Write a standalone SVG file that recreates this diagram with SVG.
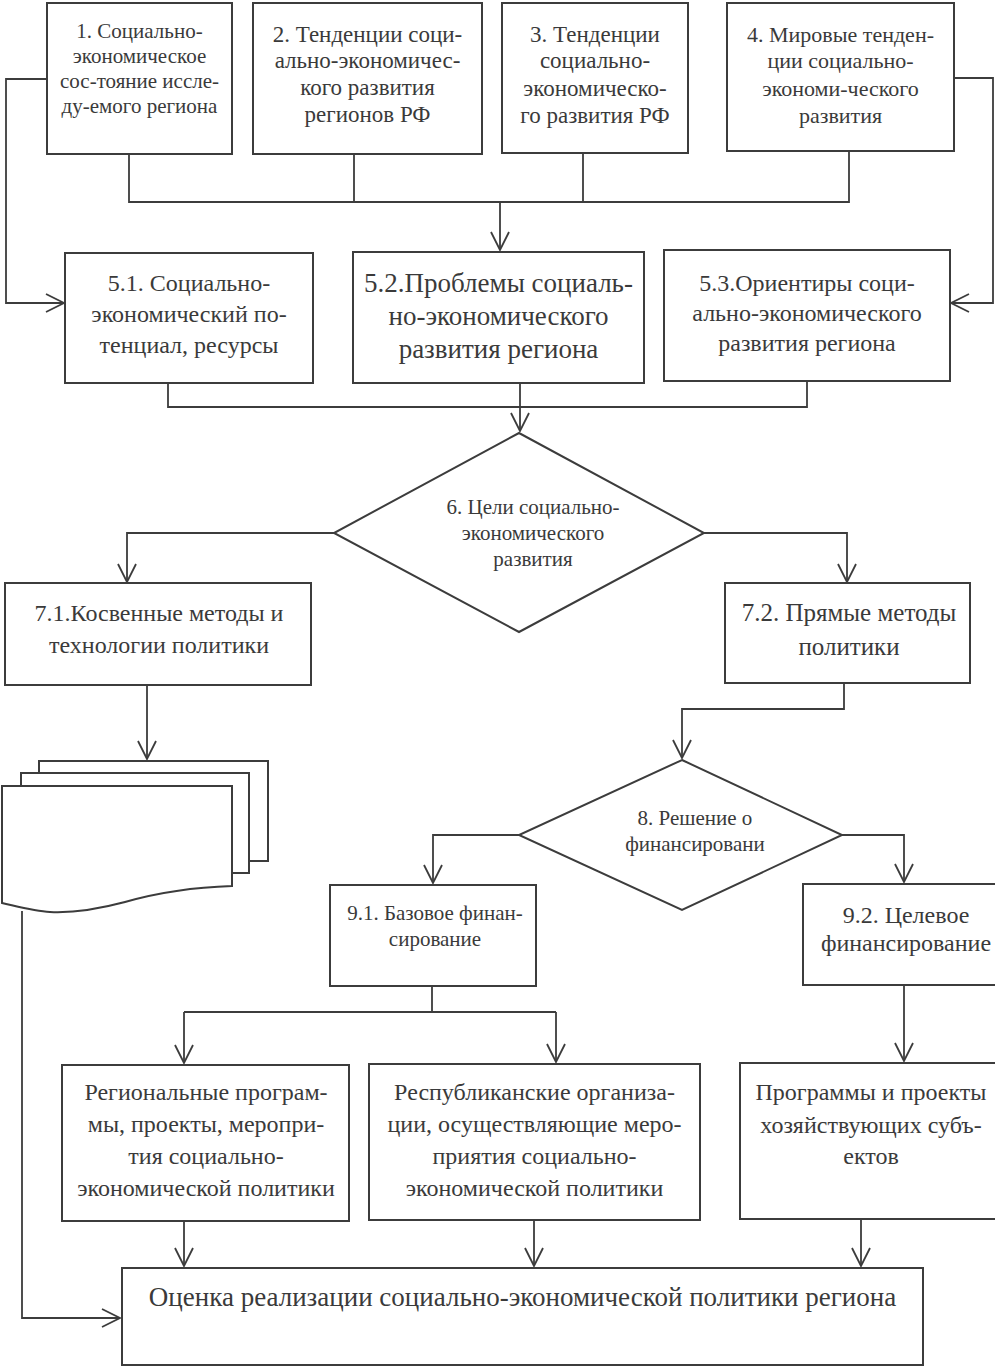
<svg xmlns="http://www.w3.org/2000/svg" width="995" height="1367" viewBox="0 0 995 1367">
<style>
.b{fill:#fff;stroke:#3c3c3c;stroke-width:2}
.c{fill:none;stroke:#3c3c3c;stroke-width:1.8}
text{font-family:"Liberation Serif","Times New Roman",serif;fill:#3a3a3a;text-anchor:middle}
</style>
<defs>
<marker id="a" viewBox="0 0 20 20" refX="19" refY="10" markerWidth="20" markerHeight="20" markerUnits="userSpaceOnUse" orient="auto">
<path d="M1,1 L19,10 L1,19" fill="none" stroke="#3c3c3c" stroke-width="1.8"/>
</marker>
</defs>
<rect width="995" height="1367" fill="#fff"/>
<g id="connectors">
<path class="c" d="M129,154 V202 H849 V151 M354,154 V202 M583,153 V202"/>
<path class="c" d="M500,202 V250" marker-end="url(#a)"/>
<path class="c" d="M47,79 H6 V303 H64" marker-end="url(#a)"/>
<path class="c" d="M954,78 H993 V303 H951" marker-end="url(#a)"/>
<path class="c" d="M168,383 V407 H807 V381"/>
<path class="c" d="M520,383 V431" marker-end="url(#a)"/>
<path class="c" d="M334,533 H127 V582" marker-end="url(#a)"/>
<path class="c" d="M704,533 H847 V582" marker-end="url(#a)"/>
<path class="c" d="M147,685 V759" marker-end="url(#a)"/>
<path class="c" d="M22,911 V1318 H120" marker-end="url(#a)"/>
<path class="c" d="M844,683 V709 H682 V758" marker-end="url(#a)"/>
<path class="c" d="M519,835 H433 V883" marker-end="url(#a)"/>
<path class="c" d="M842,835 H904 V882" marker-end="url(#a)"/>
<path class="c" d="M432,986 V1012 M184,1012 H556"/>
<path class="c" d="M184,1012 V1063" marker-end="url(#a)"/>
<path class="c" d="M556,1012 V1062" marker-end="url(#a)"/>
<path class="c" d="M904,985 V1061" marker-end="url(#a)"/>
<path class="c" d="M184,1221 V1266" marker-end="url(#a)"/>
<path class="c" d="M534,1220 V1266" marker-end="url(#a)"/>
<path class="c" d="M861,1219 V1266" marker-end="url(#a)"/>
</g>
<g id="n1">
<rect class="b" x="47" y="3" width="185" height="151"/>
<text font-size="21"><tspan x="139.5" y="38">1. Социально-</tspan><tspan x="139.5" y="63">экономическое</tspan><tspan x="139.5" y="88">сос-тояние иссле-</tspan><tspan x="139.5" y="113">ду-емого региона</tspan></text>
</g>
<g id="n2">
<rect class="b" x="253" y="3" width="229" height="151"/>
<text font-size="23"><tspan x="367.5" y="42">2. Тенденции соци-</tspan><tspan x="367.5" y="68">ально-экономичес-</tspan><tspan x="367.5" y="95">кого развития</tspan><tspan x="367.5" y="122">регионов РФ</tspan></text>
</g>
<g id="n3">
<rect class="b" x="502" y="3" width="186" height="150"/>
<text font-size="23"><tspan x="595" y="42">3. Тенденции</tspan><tspan x="595" y="68">социально-</tspan><tspan x="595" y="96">экономическо-</tspan><tspan x="595" y="123">го развития РФ</tspan></text>
</g>
<g id="n4">
<rect class="b" x="727" y="3" width="227" height="148"/>
<text font-size="22"><tspan x="840.5" y="42">4. Мировые тенден-</tspan><tspan x="840.5" y="68">ции социально-</tspan><tspan x="840.5" y="96">экономи-ческого</tspan><tspan x="840.5" y="123">развития</tspan></text>
</g>
<g id="n51">
<rect class="b" x="65" y="253" width="248" height="130"/>
<text font-size="24"><tspan x="189" y="291">5.1. Социально-</tspan><tspan x="189" y="322">экономический по-</tspan><tspan x="189" y="353">тенциал, ресурсы</tspan></text>
</g>
<g id="n52">
<rect class="b" x="353" y="252" width="291" height="131"/>
<text font-size="27"><tspan x="498.5" y="292">5.2.Проблемы социаль-</tspan><tspan x="498.5" y="325">но-экономического</tspan><tspan x="498.5" y="358">развития региона</tspan></text>
</g>
<g id="n53">
<rect class="b" x="664" y="250" width="286" height="131"/>
<text font-size="24"><tspan x="807" y="291">5.3.Ориентиры соци-</tspan><tspan x="807" y="321">ально-экономического</tspan><tspan x="807" y="351">развития региона</tspan></text>
</g>
<g id="n6">
<polygon class="b" points="519,433 704,533 519,632 334,533"/>
<text font-size="21"><tspan x="533" y="514">6. Цели социально-</tspan><tspan x="533" y="540">экономического</tspan><tspan x="533" y="566">развития</tspan></text>
</g>
<g id="n71">
<rect class="b" x="5" y="583" width="306" height="102"/>
<text font-size="24"><tspan x="159" y="621">7.1.Косвенные методы и</tspan><tspan x="159" y="653">технологии политики</tspan></text>
</g>
<g id="n72">
<rect class="b" x="725" y="583" width="245" height="100"/>
<text font-size="25"><tspan x="849" y="621">7.2. Прямые методы</tspan><tspan x="849" y="655">политики</tspan></text>
</g>
<g id="docs">
<rect class="b" x="39" y="761" width="229" height="100"/>
<rect class="b" x="21" y="773" width="228" height="100"/>
<path class="b" d="M2,786 H232 V886 C200,887 160,892 125,902 C95,910 70,913 50,912 C35,911 20,907 2,903 Z"/>
</g>
<g id="n8">
<polygon class="b" points="682,760 842,835 682,910 519,835"/>
<text font-size="21"><tspan x="695" y="825">8. Решение о</tspan><tspan x="695" y="851">финансировани</tspan></text>
</g>
<g id="n91">
<rect class="b" x="330" y="885" width="206" height="101"/>
<text font-size="21"><tspan x="435" y="920">9.1. Базовое финан-</tspan><tspan x="435" y="946">сирование</tspan></text>
</g>
<g id="n92">
<rect class="b" x="803" y="884" width="210" height="101"/>
<text font-size="24"><tspan x="906" y="923">9.2. Целевое</tspan><tspan x="906" y="951">финансирование</tspan></text>
</g>
<g id="n10">
<rect class="b" x="62" y="1065" width="287" height="156"/>
<text font-size="24"><tspan x="206" y="1100">Региональные програм-</tspan><tspan x="206" y="1132">мы, проекты, меропри-</tspan><tspan x="206" y="1164">тия социально-</tspan><tspan x="206" y="1196">экономической политики</tspan></text>
</g>
<g id="n11">
<rect class="b" x="369" y="1064" width="331" height="156"/>
<text font-size="24"><tspan x="534.5" y="1100">Республиканские организа-</tspan><tspan x="534.5" y="1132">ции, осуществляющие меро-</tspan><tspan x="534.5" y="1164">приятия социально-</tspan><tspan x="534.5" y="1196">экономической политики</tspan></text>
</g>
<g id="n12">
<rect class="b" x="740" y="1063" width="264" height="156"/>
<text font-size="24"><tspan x="871" y="1100">Программы и проекты</tspan><tspan x="871" y="1133">хозяйствующих субъ-</tspan><tspan x="871" y="1164">ектов</tspan></text>
</g>
<g id="n13">
<rect class="b" x="122" y="1268" width="801" height="97"/>
<text font-size="27" x="522.5" y="1306">Оценка реализации социально-экономической политики региона</text>
</g>
</svg>
